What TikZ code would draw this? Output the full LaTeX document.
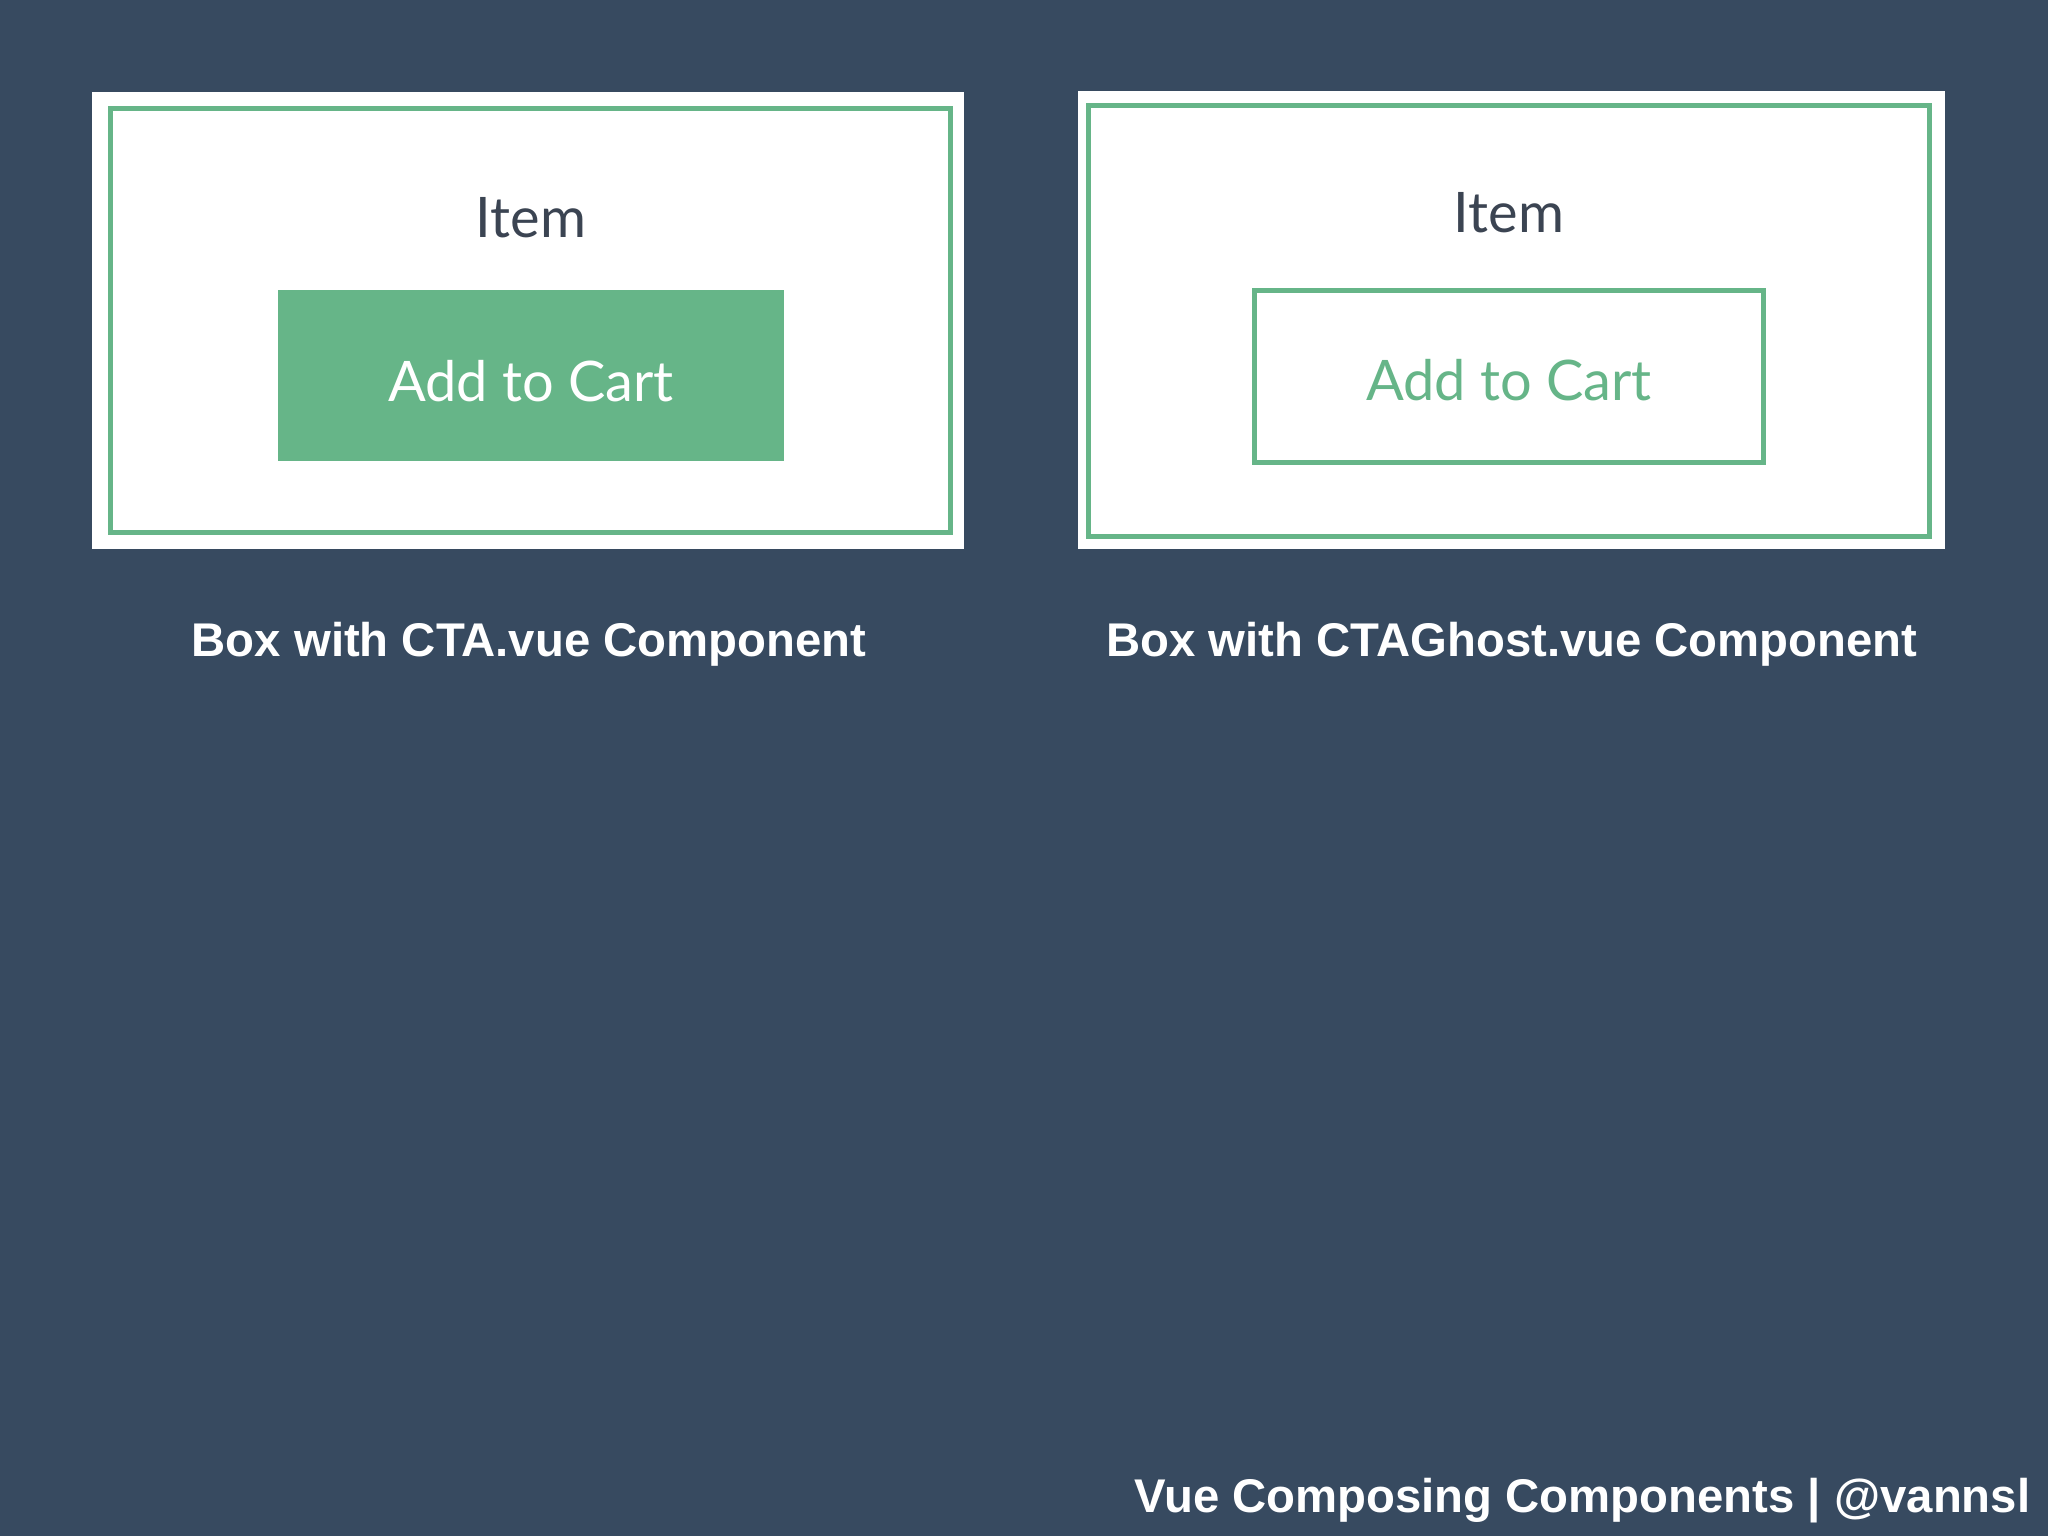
\documentclass[tikz,border=0pt]{standalone}
\usepackage{fontspec}
\setmainfont{Liberation Sans}
\newfontfamily\itemfont{Lato}
\definecolor{bg}{HTML}{374A60}
\definecolor{vgreen}{HTML}{66B588}
\definecolor{itemgray}{HTML}{3B4452}
\tikzset{
  panel/.style={fill=white, draw=none},
  frame/.style={draw=vgreen, line width=0.05cm},
  itemtxt/.style={font=\itemfont\fontsize{15.9pt}{18pt}\selectfont, text=itemgray, inner sep=0pt, anchor=base},
  btntxt/.style={font=\itemfont\fontsize{15.9pt}{18pt}\selectfont, inner sep=0pt, anchor=base},
  caption/.style={font=\bfseries\fontsize{13.45pt}{16pt}\selectfont, text=white, inner sep=0pt, anchor=base}
}
\begin{document}
\begin{tikzpicture}[x=0.01cm, y=-0.01cm]
\fill[bg] (0,0) rectangle (2048,1536);
\useasboundingbox (0,0) rectangle (2048,1536);
% left panel
\fill[panel] (92,92) rectangle (964,549);
\draw[frame] (110.5,108.5) rectangle (950.5,532.5);
\fill[vgreen] (278,290) rectangle (784,461);
\node[itemtxt] (item1) at (531,237) {Item};
\node[btntxt, text=white] (cta1) at (531,401) {Add to Cart};
% right panel
\fill[panel] (1078,91) rectangle (1945,549);
\draw[frame] (1088.5,105.5) rectangle (1929.5,536.5);
\draw[frame] (1254.5,290.5) rectangle (1763.5,462.5);
\node[itemtxt] (item2) at (1509,232) {Item};
\node[btntxt, text=vgreen] (cta2) at (1509,400) {Add to Cart};
% captions
\node[caption] (cap1) at (529,656) {Box with CTA.vue Component};
\node[caption] (cap2) at (1512,656) {Box with CTAGhost.vue Component};
\node[caption, anchor=base east] (foot) at (2031,1512) {Vue Composing Components | @vannsl};
\end{tikzpicture}
\end{document}
